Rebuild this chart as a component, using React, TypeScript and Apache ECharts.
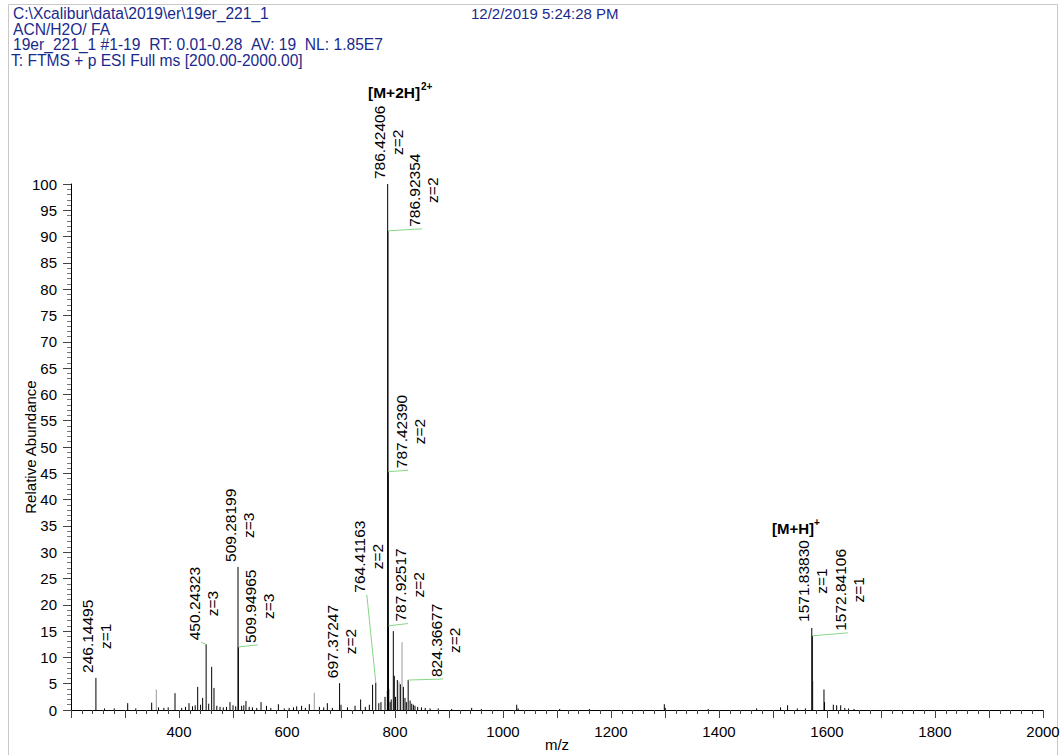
import React, { useEffect, useRef } from 'react';
import * as echarts from 'echarts';

const FONT = '"Liberation Sans", Arial, Helvetica, sans-serif';
const HEADER_COLOR = '#1a2a8c';
const SP2 = ' \u00a0';

// ---- header texts ----
const headerLines = [
  'C:\\Xcalibur\\data\\2019\\er\\19er_221_1',
  'ACN/H2O/ FA',
  `19er_221_1 #1-19${SP2}RT: 0.01-0.28${SP2}AV: 19${SP2}NL: 1.85E7`,
  'T: FTMS + p ESI Full ms [200.00-2000.00]',
];
const headerDate = '12/2/2019 5:24:28 PM';

// ---- axes ----
const xMin = 200;
const xMax = 2000;
const xLabelStep = 200;
const yMin = 0;
const yMax = 100;
const yStep = 5;
const xAxisTitle = 'm/z';
const yAxisTitle = 'Relative Abundance';

// ---- centroid sticks (black) ----
const peakMz = [
  246.14495, 262, 280, 305, 320, 349.4, 362, 372, 380, 392.6, 405, 412, 418.5, 425, 430,
  434.6, 440, 443.8, 450.24323, 455, 460.5, 464.8, 470, 476, 482, 488, 494.4, 500, 505,
  509.28199, 509.94965, 516, 520, 524, 530, 536, 544, 551.9, 562, 570, 584, 595, 604, 612,
  617.9, 627, 634, 641.3, 660, 668, 674.7, 684, 697.37247, 700, 712, 726, 736.4, 745,
  752.5, 758.5, 764.41163, 770, 774, 781.5, 785.9, 786.42406, 786.92354, 787.4239,
  787.92517, 788.4, 791, 793, 796.9, 798.7, 801, 804.3, 809.9, 815.5, 818.5, 821,
  824.36677, 828, 831, 834, 837, 842, 849, 856, 865, 880, 905, 942, 960, 1025.4, 1028,
  1105, 1160, 1298.7, 1300.5, 1380, 1469.7, 1514, 1527, 1545, 1560, 1571.8383, 1572.84106,
  1594.4, 1595.4, 1611.7, 1617.9, 1625.4, 1633, 1640, 1650,
];
const peakIntensity = [
  6.1, 0.3, 0.3, 1.3, 0.3, 1.4, 0.5, 0.4, 0.5, 3.2, 0.4, 0.6, 1.3, 0.7, 0.9,
  4.4, 1.0, 2.3, 12.5, 1.2, 8.2, 4.2, 0.8, 0.6, 0.5, 0.6, 1.5, 0.9, 0.7,
  27.2, 12.0, 0.8, 0.9, 1.7, 0.6, 0.5, 0.4, 1.5, 0.8, 0.4, 1.1, 0.3, 0.4, 0.5,
  0.7, 0.8, 0.4, 1.1, 0.6, 0.5, 1.3, 0.4, 5.1, 1.0, 0.5, 0.8, 2.0, 0.6,
  1.0, 4.8, 5.2, 1.3, 1.5, 2.5, 3.7, 100, 91.1, 45.3,
  16.0, 4.0, 1.5, 2.0, 15.0, 6.5, 2.5, 5.7, 4.9, 4.4, 2.3, 1.5,
  5.7, 1.8, 1.2, 1.0, 0.8, 0.6, 0.5, 0.4, 0.3, 0.3, 0.2, 0.4, 0.2, 1.0, 0.3,
  0.2, 0.2, 1.1, 0.4, 0.2, 0.3, 0.5, 0.9, 0.3, 0.3, 15.6, 14.1,
  3.9, 1.5, 1.0, 0.9, 0.9, 0.4, 0.3, 0.2,
];

// ---- profile sticks (grey) ----
const greyMz = [358, 650.6, 807.4, 813, 1573.84];
const greyIntensity = [3.9, 3.3, 5.4, 12.9, 5.5];

// ---- labelled peaks ----
const labelMz = [
  246.14495, 450.24323, 509.28199, 509.94965, 697.37247, 764.41163, 786.42406,
  786.92354, 787.4239, 787.92517, 824.36677, 1571.8383, 1572.84106,
];
const labelText = [
  '246.14495', '450.24323', '509.28199', '509.94965', '697.37247', '764.41163', '786.42406',
  '786.92354', '787.42390', '787.92517', '824.36677', '1571.83830', '1572.84106',
];
const labelCharge = [1, 3, 3, 3, 2, 2, 2, 2, 2, 2, 2, 1, 1];
const labelIntensity = [6.1, 12.5, 27.2, 12.0, 5.1, 5.2, 100, 91.1, 45.3, 16.0, 5.7, 15.6, 14.1];

// label layout in pixels: [dx of m/z text column from stick, dy of text bottom from stick top, connector]
const labelLayout: [number, number, number][] = [
  [-8, -5, 0], [-12, -4, 1], [-8, -5, 0], [12.6, -4, 1], [-7, -5, 0], [-16, -90, 1],
  [-8, -5, 0], [27, -4, 1], [13, -3.5, 1], [12.5, -4.3, 1], [28, -3, 1], [-8, -6, 0],
  [28.5, -5, 1],
];

const LABEL_SIZE = 15.5;
const LABEL_LINE = 18;

let measureCtx: CanvasRenderingContext2D | null = null;
function textWidth(t: string, size: number): number {
  if (!measureCtx) measureCtx = document.createElement('canvas').getContext('2d');
  if (!measureCtx) return t.length * size * 0.55;
  measureCtx.font = `${size}px ${FONT}`;
  return measureCtx.measureText(t).width;
}

function txt(text: string, x: number, y: number, size: number, color: string, opts: any = {}) {
  return {
    type: 'text',
    x,
    y,
    silent: true,
    style: {
      text,
      fill: color,
      fontSize: size,
      fontFamily: FONT,
      fontWeight: opts.bold ? 'bold' : 'normal',
      align: opts.align || 'left',
      textAlign: opts.align || 'left',
      verticalAlign: 'middle',
      textVerticalAlign: 'middle',
    },
  };
}

export default function App() {
  const ref = useRef<HTMLDivElement>(null);

  useEffect(() => {
    if (!ref.current) return;
    const chart = echarts.init(ref.current, null, { renderer: 'svg' });

    const graphics: any[] = [
      {
        type: 'rect',
        silent: true,
        shape: { x: 8.5, y: 4.5, width: 1049, height: 800 },
        style: { fill: 'none', stroke: '#c8c8c8', lineWidth: 1 },
      },
    ];
    const headerY = [13.5, 29, 44.5, 60];
    headerLines.forEach((line, i) => {
      graphics.push(txt(line, i === 3 ? 11 : 13, headerY[i], 15.6, HEADER_COLOR));
    });
    graphics.push(txt(headerDate, 471, 13.5, 15, HEADER_COLOR));
    graphics.push(txt('[M+2H]', 368, 92, 15.5, '#000', { bold: true }));
    graphics.push(txt('2+', 421, 86, 10, '#000', { bold: true }));
    graphics.push(txt('[M+H]', 772, 528, 15, '#000', { bold: true }));
    graphics.push(txt('+', 814, 522, 10, '#000', { bold: true }));

    const stickRender = (color: string) => (params: any, api: any) => {
      const p0 = api.coord([api.value(0), 0]);
      const p1 = api.coord([api.value(0), api.value(1)]);
      return {
        type: 'line',
        shape: { x1: p0[0], y1: p0[1], x2: p1[0], y2: p1[1] },
        style: { stroke: color, lineWidth: 1 },
      };
    };

    const option: any = {
      animation: false,
      backgroundColor: '#ffffff',
      grid: { left: 71, right: 18, top: 184, bottom: 45, containLabel: false, outerBoundsMode: 'none' },
      xAxis: {
        type: 'value',
        min: xMin,
        max: xMax,
        interval: 100,
        name: xAxisTitle,
        nameLocation: 'middle',
        nameGap: 27,
        nameMoveOverlap: false,
        nameTextStyle: { color: '#000', fontSize: 15, fontFamily: FONT },
        axisLine: { show: true, onZero: false, lineStyle: { color: '#000', width: 1 } },
        axisTick: { show: true, length: 8, lineStyle: { color: '#444' } },
        minorTick: { show: true, splitNumber: 5, length: 4, lineStyle: { color: '#444' } },
        axisLabel: {
          color: '#000',
          fontSize: 15,
          fontFamily: FONT,
          margin: 14,
          showMinLabel: true,
          formatter: (v: number) => (v > xMin && v % xLabelStep === 0 ? String(v) : ''),
        },
        splitLine: { show: false },
        minorSplitLine: { show: false },
      },
      yAxis: {
        type: 'value',
        min: yMin,
        max: yMax,
        interval: yStep,
        name: yAxisTitle,
        nameLocation: 'middle',
        nameRotate: 90,
        nameGap: 33,
        nameMoveOverlap: false,
        nameTextStyle: { color: '#000', fontSize: 15, fontFamily: FONT },
        axisLine: { show: true, lineStyle: { color: '#000', width: 1 } },
        axisTick: { show: true, length: 8, lineStyle: { color: '#444' } },
        minorTick: { show: true, splitNumber: 5, length: 4, lineStyle: { color: '#777' } },
        axisLabel: { color: '#000', fontSize: 15, fontFamily: FONT, margin: 14 },
        splitLine: { show: false },
        minorSplitLine: { show: false },
      },
      graphic: graphics,
      series: [
        {
          type: 'custom',
          name: 'profile',
          silent: true,
          encode: { x: 0, y: 1 },
          data: greyMz.map((m, i) => [m, greyIntensity[i]]),
          renderItem: stickRender('#9a9a9a'),
          z: 2,
        },
        {
          type: 'custom',
          name: 'centroid',
          silent: true,
          encode: { x: 0, y: 1 },
          data: peakMz.map((m, i) => [m, peakIntensity[i]]),
          renderItem: stickRender('#000'),
          z: 3,
        },
        {
          type: 'custom',
          name: 'labels',
          silent: true,
          clip: false,
          encode: { x: 0, y: 1 },
          data: labelMz.map((m, i) => [m, labelIntensity[i], i]),
          renderItem: (params: any, api: any) => {
            const i = api.value(2);
            const p = api.coord([api.value(0), api.value(1)]);
            const [dx, dy, conn] = labelLayout[i];
            const colX = p[0] + dx;
            const bottom = p[1] + dy;
            const t = labelText[i];
            const len = textWidth(t, LABEL_SIZE);
            const children: any[] = [
              {
                type: 'text',
                x: colX,
                y: bottom,
                rotation: Math.PI / 2,
                style: {
                  text: t,
                  fill: '#000',
                  fontSize: LABEL_SIZE,
                  fontFamily: FONT,
                  align: 'left',
                  textAlign: 'left',
                  verticalAlign: 'middle',
                  textVerticalAlign: 'middle',
                },
              },
              {
                type: 'text',
                x: colX + LABEL_LINE,
                y: bottom - len / 2,
                rotation: Math.PI / 2,
                style: {
                  text: 'z=' + labelCharge[i],
                  fill: '#000',
                  fontSize: LABEL_SIZE,
                  fontFamily: FONT,
                  align: 'center',
                  textAlign: 'center',
                  verticalAlign: 'middle',
                  textVerticalAlign: 'middle',
                },
              },
            ];
            if (conn) {
              children.push({
                type: 'line',
                shape: { x1: p[0], y1: p[1], x2: colX + 7, y2: bottom + 2 },
                style: { stroke: '#86d686', lineWidth: 1 },
              });
            }
            return { type: 'group', children };
          },
          z: 4,
        },
      ],
    };

    chart.setOption(option);
    return () => chart.dispose();
  }, []);

  return (
    <div
      ref={ref}
      style={{ position: 'absolute', left: 0, top: 0, width: 1061, height: 755, background: '#fff' }}
    />
  );
}
